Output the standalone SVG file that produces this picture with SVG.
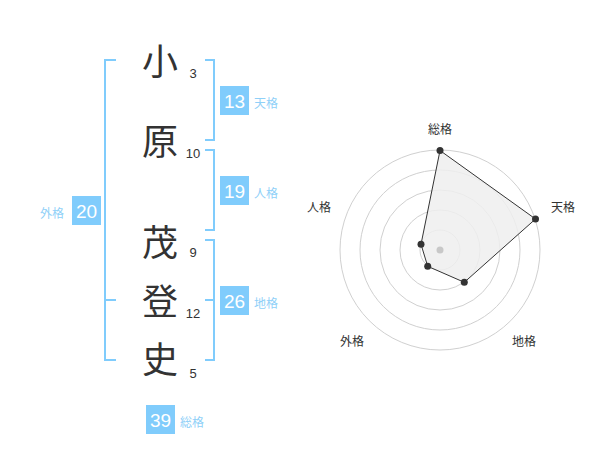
<svg xmlns="http://www.w3.org/2000/svg" width="600" height="470" viewBox="0 0 600 470">
<style>
.br{fill:none;stroke:#80ccfc;stroke-width:2}
.box{fill:#80ccfc}
.bn{font-family:"Liberation Sans",Arial,sans-serif;font-size:19px;fill:#fff;text-anchor:middle}
.lb{font-family:"Noto Sans CJK JP",sans-serif;font-size:12px;fill:#8fd0f8}
.kj{font-family:"Noto Sans CJK JP",sans-serif;font-size:36px;fill:#333;text-anchor:middle}
.st{font-family:"Liberation Sans",Arial,sans-serif;font-size:13px;fill:#333;text-anchor:middle}
.rl{font-family:"Noto Sans CJK JP",sans-serif;font-size:12px;fill:#333;text-anchor:middle}
.ring{fill:none;stroke:#d0d0d0;stroke-width:1}
.pt{fill:#333}
</style>
<rect width="600" height="470" fill="#fff"/>
<g id="connectors">
<path class="br" d="M116,60 H105 V360 H116 M105,300 H116"/>
<path class="br" d="M205,60 H214 V140 H205"/>
<path class="br" d="M205,150 H214 V230 H205"/>
<path class="br" d="M205,240 H214 V360 H205 M205,300 H214"/>
</g>
<g id="name">
<text class="kj" x="160" y="75">小</text>
<text class="kj" x="160" y="155">原</text>
<text class="kj" x="160" y="256">茂</text>
<text class="kj" x="160" y="315">登</text>
<text class="kj" x="160" y="373">史</text>
<text class="st" x="193" y="78">3</text>
<text class="st" x="193" y="158">10</text>
<text class="st" x="193" y="257">9</text>
<text class="st" x="193" y="318">12</text>
<text class="st" x="193" y="378">5</text>
</g>
<g id="tenkaku"><rect class="box" x="220" y="86" width="29" height="29"/><text class="bn" x="234.5" y="107.5">13</text><text class="lb" x="254" y="108">天格</text></g>
<g id="jinkaku"><rect class="box" x="220" y="176" width="29" height="29"/><text class="bn" x="234.5" y="197.5">19</text><text class="lb" x="254" y="198">人格</text></g>
<g id="chikaku"><rect class="box" x="220" y="286" width="29" height="29"/><text class="bn" x="234.5" y="307.5">26</text><text class="lb" x="254" y="308">地格</text></g>
<g id="gaikaku"><rect class="box" x="72" y="196" width="29" height="29"/><text class="bn" x="86.5" y="217.5">20</text><text class="lb" x="40" y="218">外格</text></g>
<g id="soukaku"><rect class="box" x="146" y="405" width="29" height="29"/><text class="bn" x="160.5" y="426.5">39</text><text class="lb" x="180" y="427">総格</text></g>
<g id="radar">
<circle class="ring" cx="440" cy="250" r="20"/>
<circle class="ring" cx="440" cy="250" r="40"/>
<circle class="ring" cx="440" cy="250" r="60"/>
<circle class="ring" cx="440" cy="250" r="80"/>
<circle class="ring" cx="440" cy="250" r="100"/>
<polygon points="440,150.5 535.5,219 464.3,282.3 427.7,266.3 421,244.3" fill="#eeeeee" fill-opacity="0.85" stroke="#333" stroke-width="1"/>
<circle cx="440" cy="250" r="3.5" fill="#c8c8c8"/>
<circle class="pt" cx="440" cy="150.5" r="3.5"/>
<circle class="pt" cx="535.5" cy="219" r="3.5"/>
<circle class="pt" cx="464.3" cy="282.3" r="3.5"/>
<circle class="pt" cx="427.7" cy="266.3" r="3.5"/>
<circle class="pt" cx="421" cy="244.3" r="3.5"/>
<text class="rl" x="440" y="134">総格</text>
<text class="rl" x="563" y="212">天格</text>
<text class="rl" x="319" y="212">人格</text>
<text class="rl" x="352" y="346">外格</text>
<text class="rl" x="524" y="346">地格</text>
</g>
</svg>
